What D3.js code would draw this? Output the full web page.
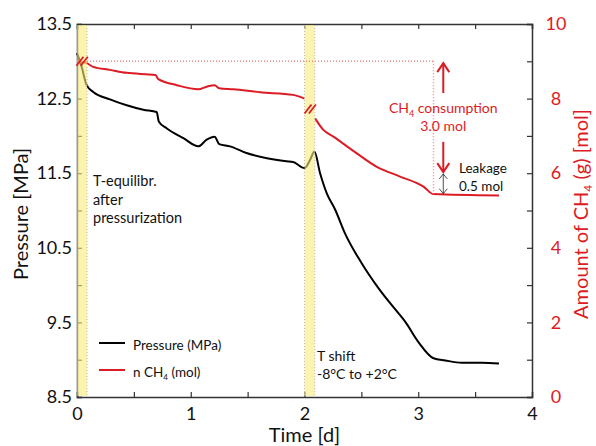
<!DOCTYPE html>
<html>
<head>
<meta charset="utf-8">
<script src="https://d3js.org/d3.v7.min.js"></script>
<style>
  body { margin: 0; background: #fff; }
  svg { font-family: Lato, "Noto Sans", sans-serif; }
  .axis path, .axis line { stroke: #333; }
  .axis path { stroke-width: 1.5; }
  .axis line { stroke-width: 1.2; }
  .axis text { font-size: 18px; fill: #111; font-family: Lato, sans-serif; }
  .red-axis text { fill: #dc1c24; }
</style>
</head>
<body>
<svg width="596" height="446"></svg>
<script>
// time [d] and pressure [MPa]
var pTime = [0, 0.04, 0.085, 0.143, 0.29, 0.437, 0.583, 0.70, 0.72, 0.79, 0.935, 1.067, 1.14, 1.21, 1.25,
  1.345, 1.49, 1.67, 1.84, 1.90, 2.0, 2.05, 2.087, 2.137, 2.196, 2.27, 2.357, 2.504, 2.65, 2.80, 2.885,
  3.0, 3.134, 3.237, 3.383, 3.56, 3.71];
var pressure = [13.11, 12.93, 12.68, 12.59, 12.49, 12.41, 12.35, 12.32, 12.19, 12.10, 11.97, 11.86, 11.95, 11.99, 11.89,
  11.86, 11.77, 11.70, 11.66, 11.65, 11.57, 11.68, 11.79, 11.50, 11.23, 11.01, 10.69, 10.29, 9.96, 9.67, 9.51,
  9.24, 9.02, 8.99, 8.96, 8.96, 8.95];

// time [d] and amount of CH4 [mol]; null = break during T shift
var nTime = [0, 0.085, 0.143, 0.29, 0.437, 0.69, 0.715, 0.877, 1.067, 1.14, 1.21, 1.25, 1.375, 1.61, 1.90, 2.0,
  2.05, 2.093, 2.166, 2.254, 2.46, 2.636, 2.84, 3.046, 3.134, 3.71];
var nCH4 = [9.0, 8.95, 8.85, 8.77, 8.69, 8.63, 8.52, 8.36, 8.25, 8.32, 8.36, 8.28, 8.25, 8.17, 8.10, 8.0,
  null, 7.47, 7.16, 6.98, 6.53, 6.17, 5.91, 5.64, 5.44, 5.40];

// yellow bands [start, end] in days
var bands = [[0, 0.088], [2.0, 2.09]];
var xTicks = [0, 0.5, 1, 1.5, 2, 2.5, 3, 3.5, 4];
var xLabels = [0, 1, 2, 3, 4];
var pTicks = [8.5, 9, 9.5, 10, 10.5, 11, 11.5, 12, 12.5, 13, 13.5];
var pLabels = [8.5, 9.5, 10.5, 11.5, 12.5, 13.5];
var nTicks = [0, 1, 2, 3, 4, 5, 6, 7, 8, 9, 10];
var nLabels = [0, 2, 4, 6, 8, 10];

var RED = "#dc1c24";
var svg = d3.select("svg");

var x = d3.scaleLinear().domain([0, 4]).range([77, 532]);
var yP = d3.scaleLinear().domain([8.5, 13.5]).range([397, 24]);
var yN = d3.scaleLinear().domain([0, 10]).range([397, 24]);

// axes
svg.append("g").attr("class", "axis")
  .attr("transform", "translate(0,397)")
  .call(d3.axisBottom(x).tickValues(xTicks).tickSize(-5).tickPadding(10)
    .tickFormat(d => xLabels.includes(d) ? d : ""));
svg.append("g").attr("class", "axis")
  .attr("transform", "translate(0,24)")
  .call(d3.axisTop(x).tickValues(xTicks).tickSize(-5).tickFormat(""));
svg.append("g").attr("class", "axis")
  .attr("transform", "translate(77,0)")
  .call(d3.axisLeft(yP).tickValues(pTicks).tickSize(-5).tickPadding(5)
    .tickFormat(d => pLabels.includes(d) ? d3.format(".1f")(d) : ""));
var rAx = svg.append("g").attr("class", "axis red-axis")
  .attr("transform", "translate(532,0)")
  .call(d3.axisRight(yN).tickValues(nTicks).tickSize(-5).tickPadding(24)
    .tickFormat(d => nLabels.includes(d) ? d : ""));
rAx.selectAll("text").attr("text-anchor", "middle");

// lines
var pData = pTime.map((t, i) => [t, pressure[i]]);
var nData = nTime.map((t, i) => [t, nCH4[i]]);

svg.append("path").datum(pData)
  .attr("fill", "none").attr("stroke", "#000").attr("stroke-width", 2).attr("stroke-linejoin", "round")
  .attr("d", d3.line().x(d => x(d[0])).y(d => yP(d[1])).curve(d3.curveMonotoneX));

svg.append("path").datum(nData)
  .attr("fill", "none").attr("stroke", RED).attr("stroke-width", 2).attr("stroke-linejoin", "round")
  .attr("d", d3.line().defined(d => d[1] != null).x(d => x(d[0])).y(d => yN(d[1])).curve(d3.curveMonotoneX));

// yellow bands, drawn over the lines
svg.selectAll(".band").data(bands).enter().append("rect")
  .attr("x", d => x(d[0])).attr("width", d => x(d[1]) - x(d[0]))
  .attr("y", 25).attr("height", 371)
  .attr("fill", "#faeb7c").attr("opacity", 0.6);
svg.selectAll(".bandEdge").data([bands[0][1], bands[1][0], bands[1][1]]).enter().append("line")
  .attr("x1", d => x(d)).attr("x2", d => x(d)).attr("y1", 25).attr("y2", 396)
  .attr("stroke", "#bbb").attr("stroke-width", 1).attr("stroke-dasharray", "1,2");

// break marks
[[0.045, 9.0], [2.05, 7.72]].forEach(function (b) {
  var g = svg.append("g").attr("transform", `translate(${x(b[0])},${yN(b[1])})`);
  [-2.2, 2.2].forEach(function (o) {
    g.append("line").attr("x1", o - 3.5).attr("y1", 4.5).attr("x2", o + 3.5).attr("y2", -4.5)
      .attr("stroke", RED).attr("stroke-width", 1.8);
  });
});

// dotted reference lines (start amount 9.0 mol)
svg.append("line")
  .attr("x1", x(0.088)).attr("x2", x(3.134)).attr("y1", yN(9.0)).attr("y2", yN(9.0))
  .attr("stroke", "#f08a8a").attr("stroke-width", 1.5).attr("stroke-dasharray", "1,2");
svg.append("line")
  .attr("x1", x(3.134)).attr("x2", x(3.134)).attr("y1", yN(9.0)).attr("y2", yN(5.44))
  .attr("stroke", "#f08a8a").attr("stroke-width", 1.5).attr("stroke-dasharray", "1,2");

// arrows
function arrow(xv, from, to, color, w, hw, hh, both) {
  var x0 = x(xv), y0 = yN(from), y1 = yN(to);
  var dir = y1 > y0 ? 1 : -1;
  svg.append("line").attr("x1", x0).attr("x2", x0).attr("y1", y0).attr("y2", y1)
    .attr("stroke", color).attr("stroke-width", w);
  var heads = both ? [[y1, dir], [y0, -dir]] : [[y1, dir]];
  heads.forEach(function (h) {
    svg.append("path")
      .attr("d", `M${x0 - hw},${h[0] - h[1] * hh}L${x0},${h[0]}L${x0 + hw},${h[0] - h[1] * hh}`)
      .attr("fill", "none").attr("stroke", color).attr("stroke-width", w);
  });
}
arrow(3.22, 8.15, 8.95, RED, 2, 6, 9, false);
arrow(3.22, 6.84, 6.03, RED, 2, 6, 9, false);
arrow(3.22, 5.98, 5.45, "#222", 0.8, 4, 5, true);

// annotations
var consump = svg.append("text").attr("x", x(3.22)).attr("y", 113).attr("text-anchor", "middle")
  .attr("font-size", 14).attr("fill", RED);
consump.append("tspan").text("CH");
consump.append("tspan").text("4").attr("font-size", 9).attr("dy", 4);
consump.append("tspan").text(" consumption").attr("dy", -4);
svg.append("text").attr("x", x(3.22)).attr("y", 131).attr("text-anchor", "middle")
  .attr("font-size", 14).attr("fill", RED).text("3.0 mol");

svg.append("text").attr("x", 459).attr("y", 173).attr("font-size", 13.5).attr("fill", "#111").text("Leakage");
svg.append("text").attr("x", 459).attr("y", 191).attr("font-size", 13.5).attr("fill", "#111").text("0.5 mol");

["T-equilibr.", "after", "pressurization"].forEach(function (s, i) {
  svg.append("text").attr("x", 93).attr("y", 186 + i * 18.5).attr("font-size", 14.5).attr("fill", "#111").text(s);
});
["T shift", "-8°C to +2°C"].forEach(function (s, i) {
  svg.append("text").attr("x", 317).attr("y", 361 + i * 17.5).attr("font-size", 14).attr("fill", "#111").text(s);
});

// legend
svg.append("line").attr("x1", 99).attr("x2", 125).attr("y1", 343).attr("y2", 343).attr("stroke", "#000").attr("stroke-width", 2);
svg.append("text").attr("x", 133).attr("y", 350).attr("font-size", 13.5).attr("fill", "#111").text("Pressure (MPa)");
svg.append("line").attr("x1", 99).attr("x2", 125).attr("y1", 370).attr("y2", 370).attr("stroke", RED).attr("stroke-width", 2);
var lg = svg.append("text").attr("x", 133).attr("y", 377).attr("font-size", 13.5).attr("fill", "#111");
lg.append("tspan").text("n CH");
lg.append("tspan").text("4").attr("font-size", 8).attr("dy", 3);
lg.append("tspan").text(" (mol)").attr("dy", -3);

// axis titles
svg.append("text").attr("x", x(2)).attr("y", 442).attr("text-anchor", "middle")
  .attr("font-size", 20).attr("fill", "#111").text("Time [d]");
svg.append("text").attr("transform", "translate(28,214) rotate(-90)").attr("text-anchor", "middle")
  .attr("font-size", 20).attr("fill", "#111").text("Pressure [MPa]");
var rt = svg.append("text").attr("transform", "translate(588,214) rotate(-90)").attr("text-anchor", "middle")
  .attr("font-size", 20).attr("fill", RED);
rt.append("tspan").text("Amount of CH");
rt.append("tspan").text("4").attr("font-size", 12).attr("dy", 4);
rt.append("tspan").text("  (g) [mol]").attr("dy", -4);
</script>
</body>
</html>
